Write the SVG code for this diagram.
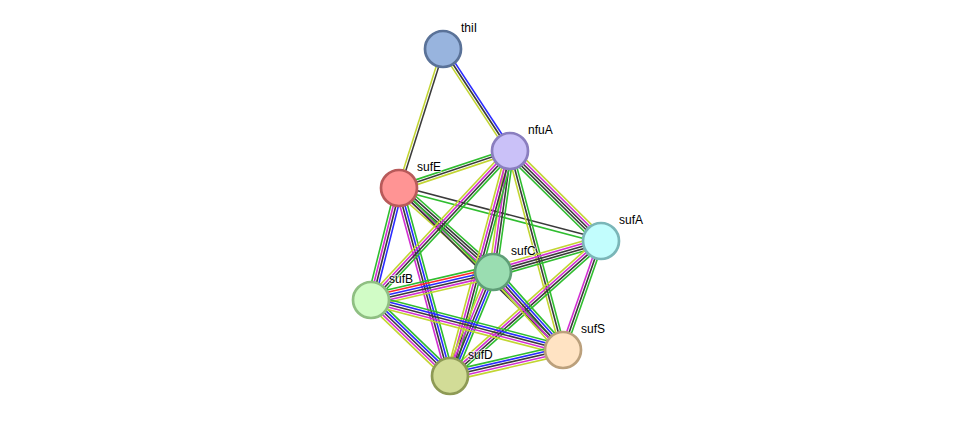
<svg xmlns="http://www.w3.org/2000/svg" width="976" height="421" viewBox="0 0 976 421">
<style>
#edges line{stroke-width:1.6;fill:none}
.g{stroke:#2fbd2f}.r{stroke:#ff2a2a}.b{stroke:#2a2aff}.k{stroke:#3a3a3a}.m{stroke:#d22ed2}.y{stroke:#c2d532}
.node circle{stroke-width:2.7}
.node text{font-family:"Liberation Sans",Arial,sans-serif;font-size:12px;fill:#000;stroke:#fff;stroke-width:2;stroke-opacity:0.6;paint-order:stroke}
</style>
<rect width="976" height="421" fill="#fff"/>
<g id="edges">
<g transform="translate(443,49) rotate(107.56)"><line x2="145.8" y1="-1.25" y2="-1.25" class="k"/><line x2="145.8" y1="1.25" y2="1.25" class="y"/></g>
<g transform="translate(443,49) rotate(56.70)"><line x2="122" y1="-2.5" y2="-2.5" class="b"/><line x2="122" class="k"/><line x2="122" y1="2.5" y2="2.5" class="y"/></g>
<g transform="translate(399,188) rotate(-18.43)"><line x2="117" y1="-2.5" y2="-2.5" class="g"/><line x2="117" class="k"/><line x2="117" y1="2.5" y2="2.5" class="y"/></g>
<g transform="translate(399,188) rotate(14.70)"><line x2="208.8" y1="-2" y2="-2" class="k"/><line x2="208.8" y1="2" y2="2" class="g"/></g>
<g transform="translate(399,188) rotate(41.78)"><line x2="126.1" y1="-5" y2="-5" class="g"/><line x2="126.1" y1="-2.5" y2="-2.5" class="k"/><line x2="126.1" class="k"/><line x2="126.1" y1="2.5" y2="2.5" class="m"/><line x2="126.1" y1="5" y2="5" class="y"/></g>
<g transform="translate(399,188) rotate(104.04)"><line x2="115.5" y1="-3.75" y2="-3.75" class="b"/><line x2="115.5" y1="-1.25" y2="-1.25" class="k"/><line x2="115.5" y1="1.25" y2="1.25" class="m"/><line x2="115.5" y1="3.75" y2="3.75" class="g"/></g>
<g transform="translate(399,188) rotate(74.82)"><line x2="194.8" y1="-3.75" y2="-3.75" class="g"/><line x2="194.8" y1="-1.25" y2="-1.25" class="b"/><line x2="194.8" y1="1.25" y2="1.25" class="k"/><line x2="194.8" y1="3.75" y2="3.75" class="m"/></g>
<g transform="translate(399,188) rotate(44.65)"><line x2="230.5" y1="-1.25" y2="-1.25" class="g"/><line x2="230.5" y1="1.25" y2="1.25" class="k"/></g>
<g transform="translate(510,151) rotate(132.99)"><line x2="203.8" y1="-3.75" y2="-3.75" class="g"/><line x2="203.8" y1="-1.25" y2="-1.25" class="k"/><line x2="203.8" y1="1.25" y2="1.25" class="m"/><line x2="203.8" y1="3.75" y2="3.75" class="y"/></g>
<g transform="translate(510,151) rotate(98.0)"><line x2="122.2" y1="-3.75" y2="-3.75" class="g"/><line x2="122.2" y1="-1.25" y2="-1.25" class="k"/><line x2="122.2" y1="1.25" y2="1.25" class="m"/><line x2="122.2" y1="3.75" y2="3.75" class="y"/></g>
<g transform="translate(510,151) rotate(104.93)"><line x2="232.9" y1="-3.75" y2="-3.75" class="g"/><line x2="232.9" y1="-1.25" y2="-1.25" class="k"/><line x2="232.9" y1="1.25" y2="1.25" class="m"/><line x2="232.9" y1="3.75" y2="3.75" class="y"/></g>
<g transform="translate(510,151) rotate(75.09)"><line x2="205.9" y1="-2.5" y2="-2.5" class="g"/><line x2="205.9" class="k"/><line x2="205.9" y1="2.5" y2="2.5" class="y"/></g>
<g transform="translate(601,241) rotate(-135.32)"><line x2="128" y1="-5" y2="-5" class="g"/><line x2="128" y1="-2.5" y2="-2.5" class="k"/><line x2="128" class="k"/><line x2="128" y1="2.5" y2="2.5" class="m"/><line x2="128" y1="5" y2="5" class="y"/></g>
<g transform="translate(601,241) rotate(163.98)"><line x2="112.4" y1="-5" y2="-5" class="g"/><line x2="112.4" y1="-2.5" y2="-2.5" class="k"/><line x2="112.4" class="k"/><line x2="112.4" y1="2.5" y2="2.5" class="m"/><line x2="112.4" y1="5" y2="5" class="y"/></g>
<g transform="translate(601,241) rotate(138.2)"><line x2="202.5" y1="-3.75" y2="-3.75" class="g"/><line x2="202.5" y1="-1.25" y2="-1.25" class="k"/><line x2="202.5" y1="1.25" y2="1.25" class="m"/><line x2="202.5" y1="3.75" y2="3.75" class="y"/></g>
<g transform="translate(601,241) rotate(109.22)"><line x2="115.4" y1="-2.5" y2="-2.5" class="g"/><line x2="115.4" class="k"/><line x2="115.4" y1="2.5" y2="2.5" class="m"/></g>
<g transform="translate(371,300) rotate(-12.93)"><line x2="125.2" y1="-6.25" y2="-6.25" class="g"/><line x2="125.2" y1="-3.75" y2="-3.75" class="r"/><line x2="125.2" y1="-1.25" y2="-1.25" class="b"/><line x2="125.2" y1="1.25" y2="1.25" class="k"/><line x2="125.2" y1="3.75" y2="3.75" class="m"/><line x2="125.2" y1="6.25" y2="6.25" class="y"/></g>
<g transform="translate(493,272) rotate(112.47)"><line x2="112.5" y1="-5" y2="-5" class="g"/><line x2="112.5" y1="-2.5" y2="-2.5" class="b"/><line x2="112.5" class="k"/><line x2="112.5" y1="2.5" y2="2.5" class="m"/><line x2="112.5" y1="5" y2="5" class="y"/></g>
<g transform="translate(493,272) rotate(48.09)"><line x2="104.8" y1="-5" y2="-5" class="g"/><line x2="104.8" y1="-2.5" y2="-2.5" class="b"/><line x2="104.8" class="k"/><line x2="104.8" y1="2.5" y2="2.5" class="m"/><line x2="104.8" y1="5" y2="5" class="y"/></g>
<g transform="translate(371,300) rotate(43.89)"><line x2="109.6" y1="-5" y2="-5" class="g"/><line x2="109.6" y1="-2.5" y2="-2.5" class="b"/><line x2="109.6" class="k"/><line x2="109.6" y1="2.5" y2="2.5" class="m"/><line x2="109.6" y1="5" y2="5" class="y"/></g>
<g transform="translate(371,300) rotate(14.60)"><line x2="198.4" y1="-5" y2="-5" class="g"/><line x2="198.4" y1="-2.5" y2="-2.5" class="b"/><line x2="198.4" class="k"/><line x2="198.4" y1="2.5" y2="2.5" class="m"/><line x2="198.4" y1="5" y2="5" class="y"/></g>
<g transform="translate(450,376) rotate(-12.96)"><line x2="115.95" y1="-5" y2="-5" class="g"/><line x2="115.95" y1="-2.5" y2="-2.5" class="b"/><line x2="115.95" class="k"/><line x2="115.95" y1="2.5" y2="2.5" class="m"/><line x2="115.95" y1="5" y2="5" class="y"/></g>
</g>
<g id="thiI" class="node"><circle cx="443" cy="49" r="18" fill="#98b4de" stroke="#5a7298"/><text x="461" y="32">thiI</text></g>
<g id="nfuA" class="node"><circle cx="510" cy="151" r="18" fill="#cac1f8" stroke="#8a7ebf"/><text x="528" y="134">nfuA</text></g>
<g id="sufE" class="node"><circle cx="399" cy="188" r="18" fill="#ff9494" stroke="#b85a5a"/><text x="417" y="171">sufE</text></g>
<g id="sufA" class="node"><circle cx="601" cy="241" r="18" fill="#c2fdfd" stroke="#7ab6b8"/><text x="619" y="224">sufA</text></g>
<g id="sufC" class="node"><circle cx="493" cy="272" r="18" fill="#9addb1" stroke="#5f9e77"/><text x="511" y="255">sufC</text></g>
<g id="sufB" class="node"><circle cx="371" cy="300" r="18" fill="#d1fcc6" stroke="#8fbf82"/><text x="389" y="283">sufB</text></g>
<g id="sufS" class="node"><circle cx="563" cy="350" r="18" fill="#ffe3c3" stroke="#bba07c"/><text x="581" y="333">sufS</text></g>
<g id="sufD" class="node"><circle cx="450" cy="376" r="18" fill="#d2dc97" stroke="#8e9a55"/><text x="468" y="359">sufD</text></g>
</svg>
